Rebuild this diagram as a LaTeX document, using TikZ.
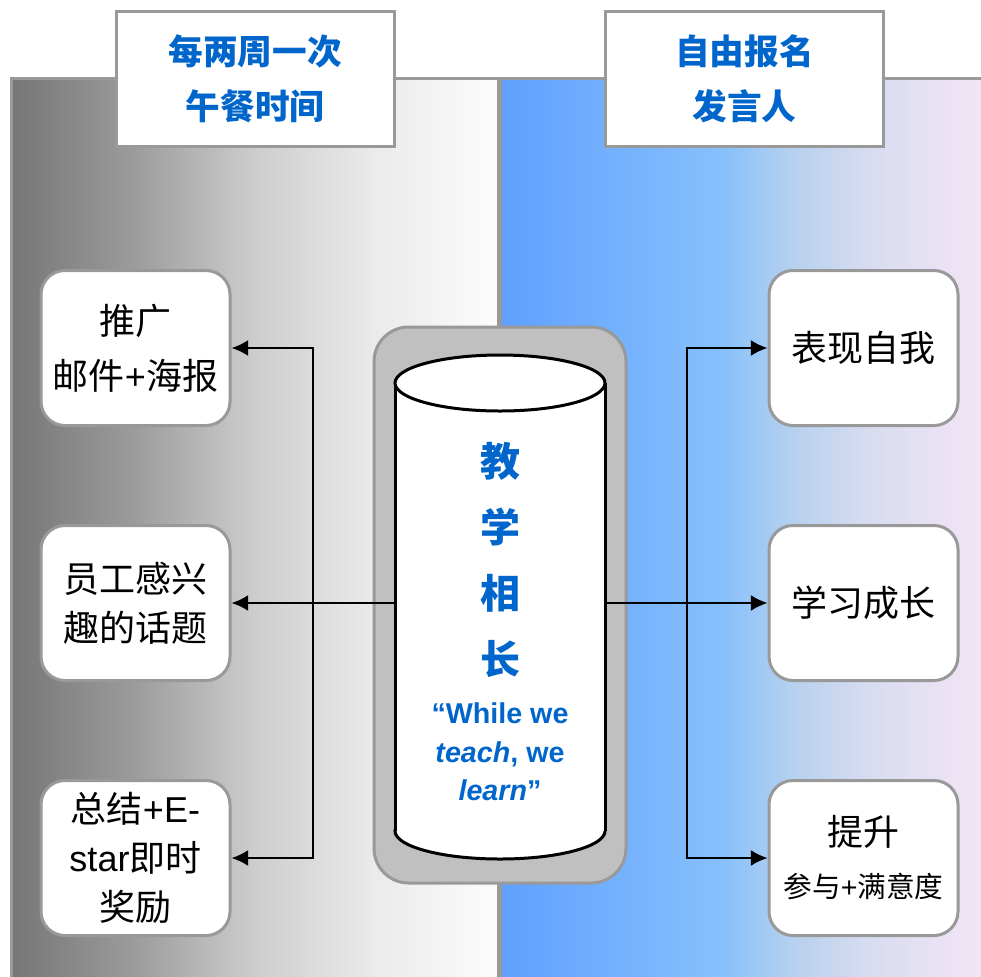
\documentclass[tikz,border=0pt]{standalone}
\usepackage{fontspec}
\usetikzlibrary{arrows.meta}
\setmainfont{Liberation Sans}
\newfontfamily\cjk{Noto Sans CJK SC}
\definecolor{hltblue}{RGB}{0,102,204}
\definecolor{hltframe}{RGB}{153,153,153}
\definecolor{hltcyl}{RGB}{192,192,192}
\definecolor{lgA}{RGB}{118,118,118}
\definecolor{lgB}{RGB}{155,155,155}
\definecolor{lgC}{RGB}{205,205,205}
\definecolor{lgD}{RGB}{235,235,235}
\definecolor{lgE}{RGB}{252,252,252}
\definecolor{rbA}{RGB}{95,160,255}
\definecolor{rbB}{RGB}{135,192,252}
\definecolor{rbC}{RGB}{180,208,238}
\definecolor{rbD}{RGB}{215,220,240}
\definecolor{rbE}{RGB}{245,230,245}
\pgfdeclarehorizontalshading{leftbg}{100bp}{color(0bp)=(lgA); color(25bp)=(lgA); color(37.5bp)=(lgB); color(50bp)=(lgC); color(62.5bp)=(lgD); color(75bp)=(lgE); color(100bp)=(lgE)}
\pgfdeclarehorizontalshading{rightbg}{100bp}{color(0bp)=(rbA); color(25bp)=(rbA); color(47.8bp)=(rbB); color(54.5bp)=(rbC); color(62.5bp)=(rbD); color(75bp)=(rbE); color(100bp)=(rbE)}

\begin{document}
\begin{tikzpicture}[x=0.75pt, y=-0.75pt, line width=1.5pt]
            \tikzstyle{every node}=[font=\fontsize{27}{37}\selectfont, align=center]
            \tikzstyle{topbox}=[draw=hltframe, line width=2.25pt, fill=white, text=hltblue, font=\fontsize{26}{41}\selectfont\bfseries, minimum width=208.5pt, minimum height=101.25pt]
            \tikzstyle{sidebox}=[draw=hltframe, line width=2.25pt, fill=white, rounded corners=18pt, minimum width=141.75pt, minimum height=116.25pt]
            \tikzstyle{arr}=[-{Latex[length=12.5pt,width=12pt]}, line width=1.5pt]
            \useasboundingbox (0,0) rectangle (981,976);
            \clip (0,0) rectangle (981,976);

            % two panels
            \draw[draw=hltframe, line width=2.25pt, shading=leftbg] (11.5,78.5) rectangle (498,990);
            \draw[draw=hltframe, line width=2.25pt, shading=rightbg] (500,78.5) rectangle (990,990);

            \node[topbox] (tl) at (255,78.5) {{\cjk 每两周一次}\\{\cjk 午餐时间}};
            \node[topbox] (tr) at (744.5,78.5) {{\cjk 自由报名}\\{\cjk 发言人}};

            % cylinder
            \draw[draw=hltframe, fill=hltcyl, line width=2.25pt, rounded corners=26pt] (374,327) rectangle (626,883);
            \draw[fill=white, line width=2.25pt] (500,831) ellipse [x radius=105, y radius=28];
            \fill[white] (395,383) rectangle (605,831);
            \draw[line width=2.25pt] (395,383) -- (395,831);
            \draw[line width=2.25pt] (605,383) -- (605,831);
            \draw[fill=white, line width=2.25pt] (500,383) ellipse [x radius=105, y radius=28];
            \node (cyl) [minimum width=157.5pt, minimum height=300pt] at (500,603) {};
            \node[text=hltblue, font=\fontsize{30}{49.5}\selectfont\bfseries\cjk] (jx) at (500,560) {教\\学\\相\\长};
            \node[text=hltblue, font=\fontsize{21.5}{29}\selectfont\bfseries] (ww) at (500,752) {“While we\\\textit{teach}, we\\\textit{learn}”};

            \node[sidebox] (l1) at (135.5,348) {{\cjk 推广}\\[4pt]{\cjk 邮件}+{\cjk 海报}};
            \node[sidebox] (l2) at (135.5,603) {{\cjk 员工感兴}\\{\cjk 趣的话题}};
            \node[sidebox] (l3) at (135.5,858) {{\cjk 总结}+E-\\star{\cjk 即时}\\{\cjk 奖励}};
            \node[sidebox] (r1) at (863.5,348) {\cjk 表现自我};
            \node[sidebox] (r2) at (863.5,603) {\cjk 学习成长};
            \node[sidebox] (r3) at (863.5,858) {{\cjk 提升}\\[2pt]{\fontsize{21.5}{28}\selectfont\cjk 参与}{\fontsize{21.5}{28}\selectfont +}{\fontsize{21.5}{28}\selectfont\cjk 满意度}};

            \coordinate (lj) at (313,603);
            \coordinate (rj) at (687,603);
            \draw[arr] (cyl.west) -- (l2.east);
            \draw[arr] (lj) |- (l1.east);
            \draw[arr] (lj) |- (l3.east);
            \draw[arr] (cyl.east) -- (r2.west);
            \draw[arr] (rj) |- (r1.west);
            \draw[arr] (rj) |- (r3.west);
          \end{tikzpicture}
\end{document}
